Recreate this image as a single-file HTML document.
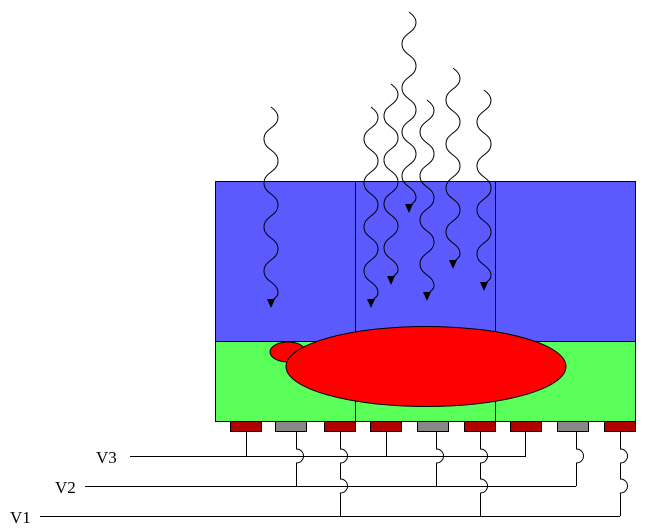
<!DOCTYPE html>
<html><head><style>html,body{margin:0;padding:0;background:#fff;}svg{display:block}</style></head>
<body>
<svg width="647" height="532" viewBox="0 0 647 532" xmlns="http://www.w3.org/2000/svg">
<rect x="215.5" y="181.5" width="420" height="160" fill="#5a5aff" stroke="#000"/>
<rect x="215.5" y="341.5" width="420" height="80" fill="#5aff5a" stroke="#000"/>
<line x1="355.5" y1="181" x2="355.5" y2="421" stroke="#000"/>
<line x1="495.5" y1="181" x2="495.5" y2="421" stroke="#000"/>
<ellipse cx="288" cy="352" rx="18" ry="10" fill="#ff0000" stroke="#000"/>
<ellipse cx="426" cy="366.5" rx="140" ry="40" fill="#ff0000" stroke="#000"/>
<g stroke="#000" fill="#b00000">
<rect x="230.5" y="421.5" width="31" height="10"/>
<rect x="275.5" y="421.5" width="31" height="10" fill="#888"/>
<rect x="324.5" y="421.5" width="31" height="10"/>
<rect x="370.5" y="421.5" width="31" height="10"/>
<rect x="417.5" y="421.5" width="31" height="10" fill="#888"/>
<rect x="464.5" y="421.5" width="31" height="10"/>
<rect x="510.5" y="421.5" width="31" height="10"/>
<rect x="557.5" y="421.5" width="31" height="10" fill="#888"/>
<rect x="604.5" y="421.5" width="31" height="10"/>
</g>
<g stroke="#000" fill="none" stroke-width="1">
<path d="M130 456.5H525.5V431"/>
<path d="M85 486.5H576"/>
<path d="M40 516.5H620"/>
<path d="M246.5 431V456"/>
<path d="M386.5 431V456"/>
<path d="M296.5 431V449a7 7 0 0 1 0 14V486"/>
<path d="M436.5 431V449a7 7 0 0 1 0 14V486"/>
<path d="M576.5 431V449a7 7 0 0 1 0 14V486"/>
<path d="M340.5 431V449a7 7 0 0 1 0 14V479a7 7 0 0 1 0 14V516"/>
<path d="M480.5 431V449a7 7 0 0 1 0 14V479a7 7 0 0 1 0 14V516"/>
<path d="M620.5 431V449a7 7 0 0 1 0 14V479a7 7 0 0 1 0 14V516"/>
</g>
<g font-family="Liberation Serif, serif" font-size="17" fill="#000">
<text x="96" y="463">V3</text>
<text x="55" y="493">V2</text>
<text x="10" y="523">V1</text>
</g>
<defs>
<path id="w" d="M0 0c4 3 7 6 7 10c0 11 -14 11 -14 22s14 11 14 22s-14 11 -14 22s14 11 14 22s-14 11 -14 22s14 11 14 22s-14 11 -14 22s14 11 14 22c0 5 -7 6 -7 10v4" fill="none" stroke="#000"/>
<path id="a" d="M-4 0L4 0L0 9Z" fill="#000"/>
</defs>
<g>
<g transform="translate(271,107)"><use href="#w"/><use href="#a" y="192"/></g>
<g transform="translate(371,107)"><use href="#w"/><use href="#a" y="192"/></g>
<g transform="translate(391,84)"><use href="#w"/><use href="#a" y="192"/></g>
<g transform="translate(409,12)"><use href="#w"/><use href="#a" y="192"/></g>
<g transform="translate(427,100)"><use href="#w"/><use href="#a" y="192"/></g>
<g transform="translate(453,68)"><use href="#w"/><use href="#a" y="192"/></g>
<g transform="translate(484,90)"><use href="#w"/><use href="#a" y="192"/></g>
</g>
</svg>
</body></html>
